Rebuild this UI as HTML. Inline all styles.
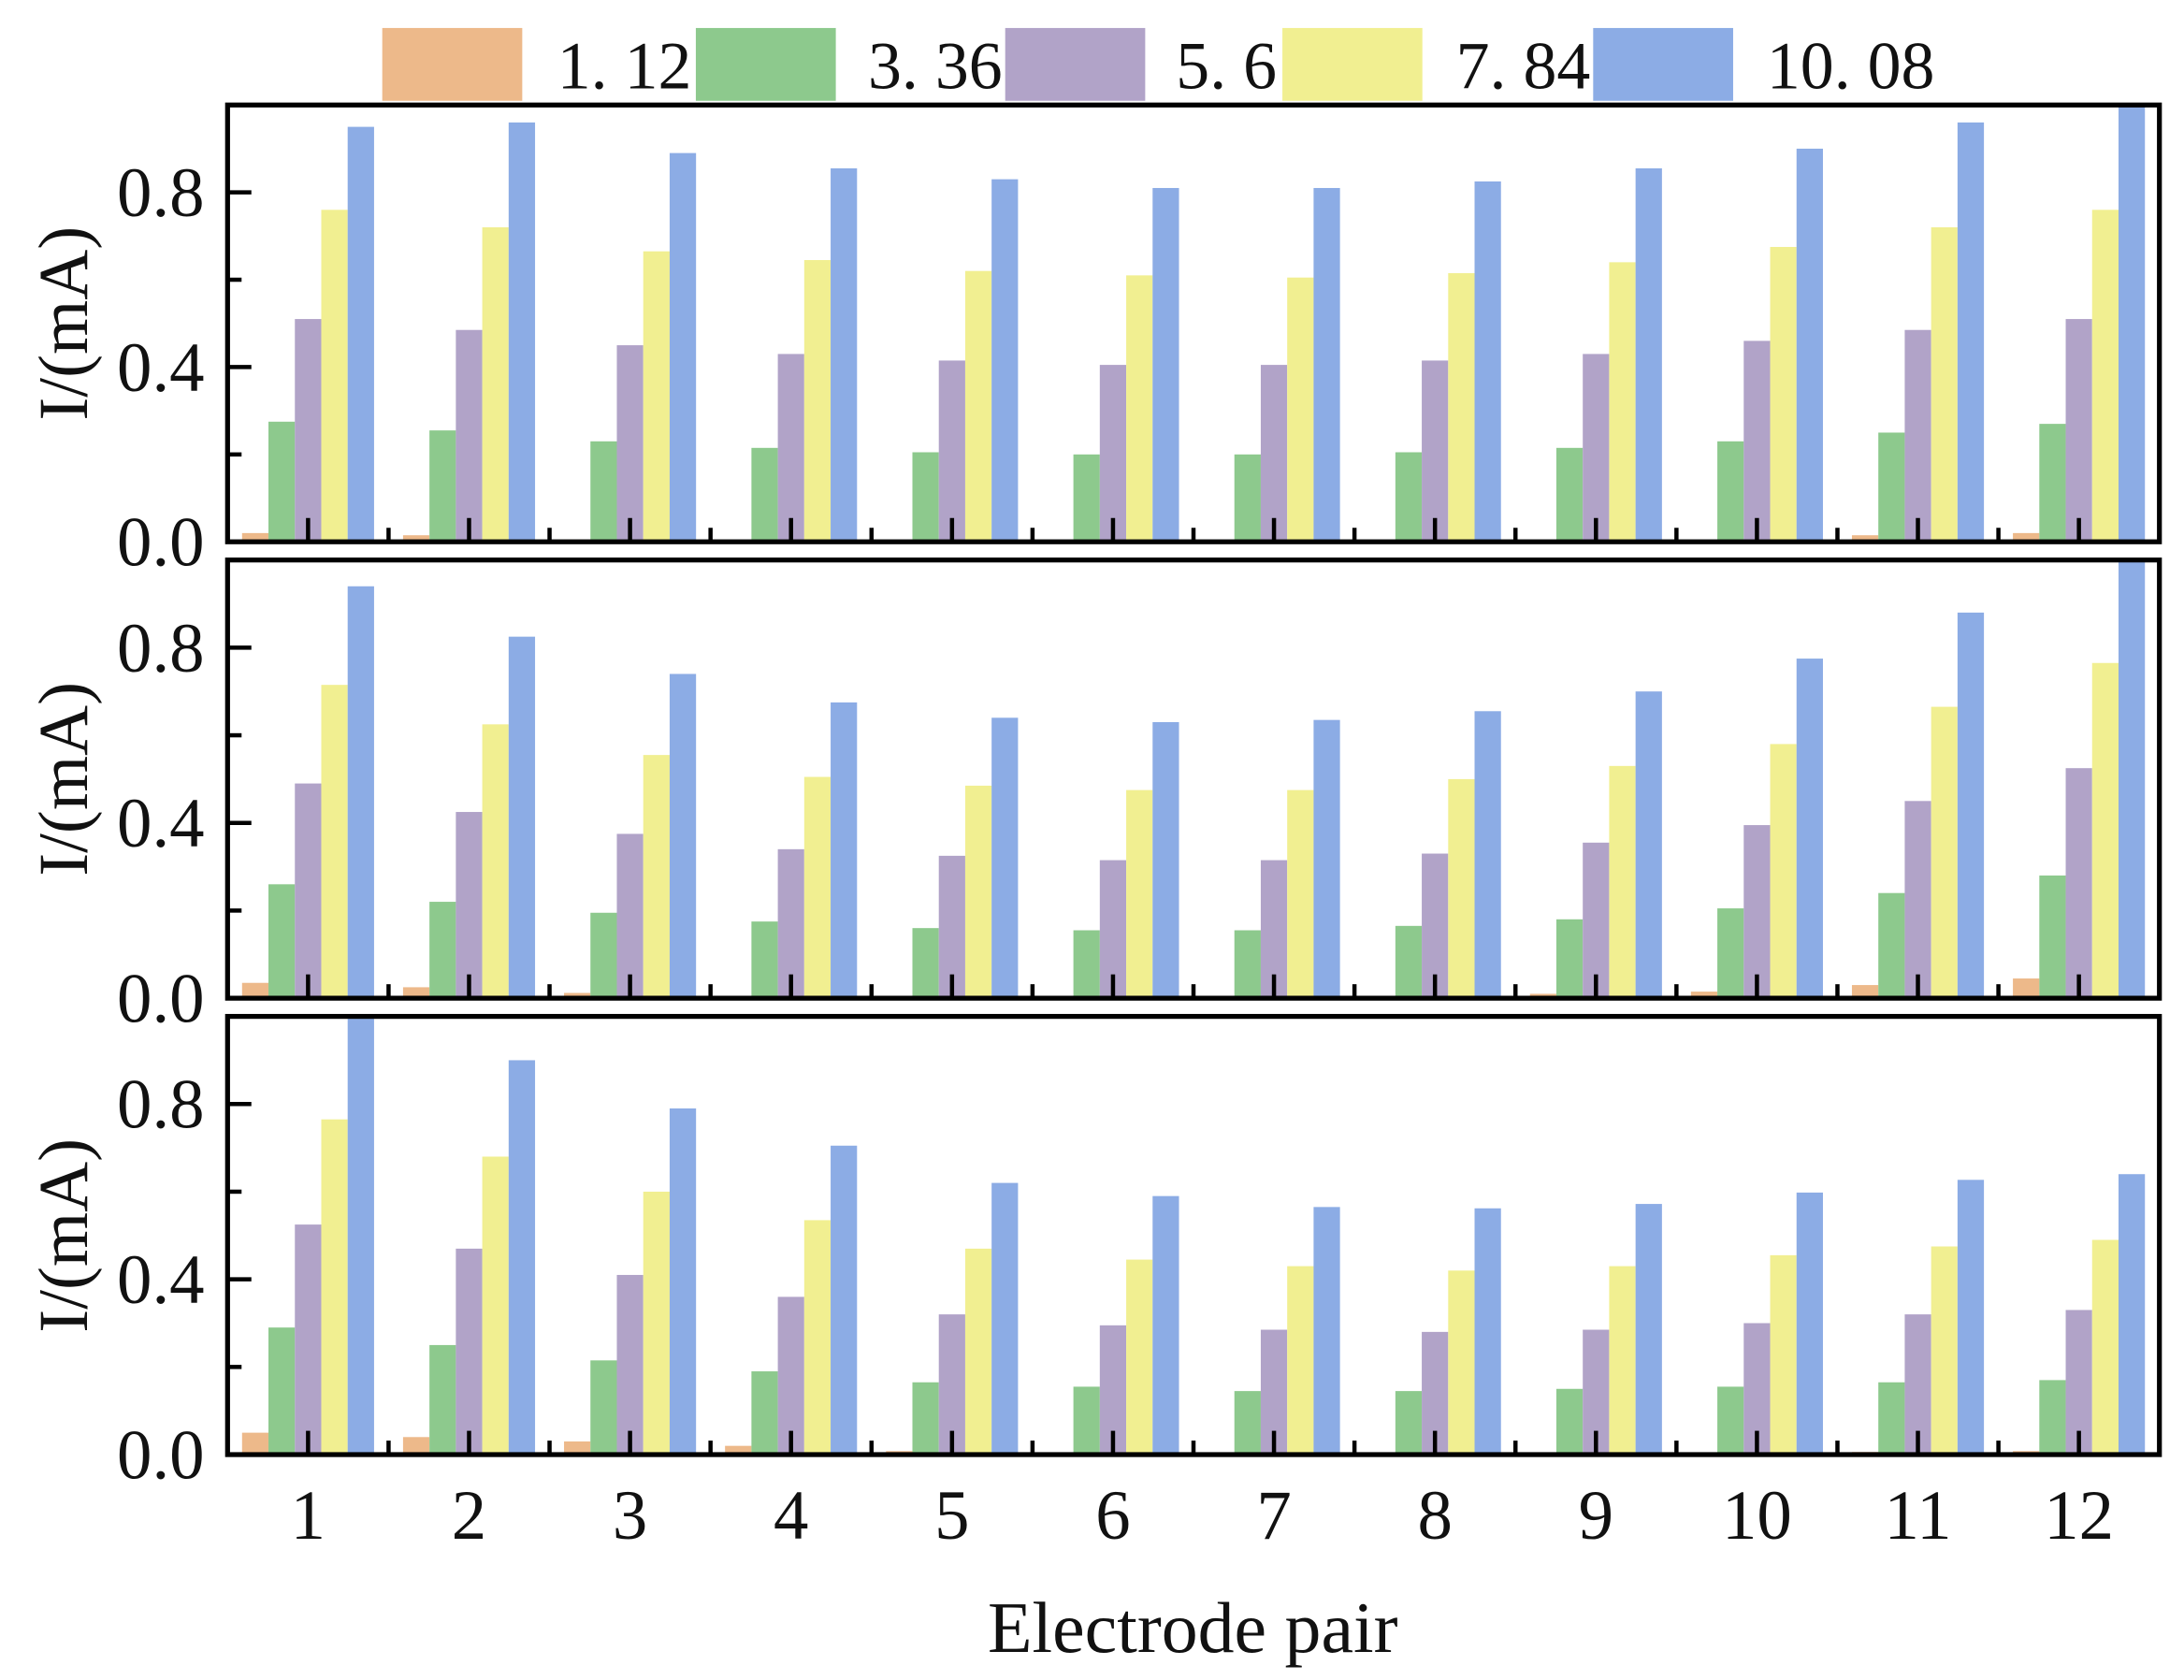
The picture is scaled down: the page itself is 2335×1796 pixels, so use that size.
<!DOCTYPE html>
<html><head><meta charset="utf-8">
<style>html,body{margin:0;padding:0;background:#fff}svg{display:block}text{font-family:"Liberation Serif",serif;fill:#111}</style>
</head><body>
<svg id="chart" width="2335" height="1796" viewBox="0 0 1560 1200" xmlns="http://www.w3.org/2000/svg"></svg>
<script>
const categories = ["1","2","3","4","5","6","7","8","9","10","11","12"];
const seriesNames = ["1. 12","3. 36","5. 6","7. 84","10. 08"];
const colors = ["#EDB98A","#8DC98D","#B1A3C8","#F1EF91","#8CACE5"];
const yTicks = [0, 0.4, 0.8];
const yTickLabels = ["0.0","0.4","0.8"];
const yMinorTicks = [0.2, 0.6];
const p1s1 = [0.02,0.015,0.005,0.003,0.002,0.001,0.001,0.001,0.002,0.003,0.015,0.02];
const p1s2 = [0.275,0.255,0.23,0.215,0.205,0.2,0.2,0.205,0.215,0.23,0.25,0.27];
const p1s3 = [0.51,0.485,0.45,0.43,0.415,0.405,0.405,0.415,0.43,0.46,0.485,0.51];
const p1s4 = [0.76,0.72,0.665,0.645,0.62,0.61,0.605,0.615,0.64,0.675,0.72,0.76];
const p1s5 = [0.95,0.96,0.89,0.855,0.83,0.81,0.81,0.825,0.855,0.9,0.96,1.0];
const p2s1 = [0.035,0.025,0.012,0.005,0.002,0.001,0.001,0.002,0.01,0.015,0.03,0.045];
const p2s2 = [0.26,0.22,0.195,0.175,0.16,0.155,0.155,0.165,0.18,0.205,0.24,0.28];
const p2s3 = [0.49,0.425,0.375,0.34,0.325,0.315,0.315,0.33,0.355,0.395,0.45,0.525];
const p2s4 = [0.715,0.625,0.555,0.505,0.485,0.475,0.475,0.5,0.53,0.58,0.665,0.765];
const p2s5 = [0.94,0.825,0.74,0.675,0.64,0.63,0.635,0.655,0.7,0.775,0.88,1.0];
const p3s1 = [0.05,0.04,0.03,0.02,0.008,0.003,0.002,0.002,0.003,0.004,0.006,0.008];
const p3s2 = [0.29,0.25,0.215,0.19,0.165,0.155,0.145,0.145,0.15,0.155,0.165,0.17];
const p3s3 = [0.525,0.47,0.41,0.36,0.32,0.295,0.285,0.28,0.285,0.3,0.32,0.33];
const p3s4 = [0.765,0.68,0.6,0.535,0.47,0.445,0.43,0.42,0.43,0.455,0.475,0.49];
const p3s5 = [1.0,0.9,0.79,0.705,0.62,0.59,0.565,0.562,0.572,0.598,0.627,0.64];
const panels = [[p1s1,p1s2,p1s3,p1s4,p1s5],[p2s1,p2s2,p2s3,p2s4,p2s5],[p3s1,p3s2,p3s3,p3s4,p3s5]];

const NS = "http://www.w3.org/2000/svg";
const svg = document.getElementById("chart");
function mk(tag, attrs, parent){const e=document.createElementNS(NS,tag);for(const k in attrs)e.setAttribute(k,attrs[k]);(parent||svg).appendChild(e);return e;}

const L = 162.5, R = 1542.5;
const panelTops = [75, 400, 726];
const panelBots = [387, 713, 1039];
const xScale = v => L + (v - 0.5) * (R - L) / 12;
const barW = 0.164;

const legend = mk("g", {});


const legX = [273, 497, 718, 916, 1138];
const legTX = [398, 620, 840, 1040, 1262];
seriesNames.forEach((n, i) => {
  const r = mk("rect", {x: legX[i], y: 20, width: 100, height: 52, fill: colors[i]}, legend);
  
  
  const t = mk("text", {x: legTX[i], y: 63, "font-size": 48}, legend);
  
  
  t.textContent = n;
});

panels.forEach((series, p) => {
  const top = panelTops[p], bot = panelBots[p];
  const yScale = v => bot - v * (bot - top);
  const g = mk("g", {});
  
  
  series.forEach((vals, s) => {
    vals.forEach((v, c) => {
      const xa = xScale(c + 1 + (s - 2.5) * barW);
      const xb = xScale(c + 1 + (s - 1.5) * barW);
      const y = yScale(Math.min(v, 1));
      const r = mk("rect", {x: xa, y: y, width: xb - xa, height: bot - y, fill: colors[s]}, g);
      
      
    });
  });
  const f = mk("rect", {x: L, y: top, width: R - L, height: bot - top, fill: "none", stroke: "#000", "stroke-width": 3.5}, g);
  
  
  categories.forEach((c, i) => {
    const x = xScale(i + 1);
    const t = mk("line", {x1: x, x2: x, y1: bot, y2: bot - 17, stroke: "#000", "stroke-width": 3}, g);
    
    
    if (i < categories.length - 1) {
      const xm = xScale(i + 1.5);
      const m = mk("line", {x1: xm, x2: xm, y1: bot, y2: bot - 10, stroke: "#000", "stroke-width": 3}, g);
      
      
    }
  });
  yTicks.forEach((v, i) => {
    const y = yScale(v);
    const t = mk("line", {x1: L, x2: L + 17, y1: y, y2: y, stroke: "#000", "stroke-width": 3}, g);
    
    
    const lb = mk("text", {x: 146, y: y + 17, "font-size": 50, "text-anchor": "end"}, g);
    
    
    lb.textContent = yTickLabels[i];
  });
  yMinorTicks.forEach(v => {
    const y = yScale(v);
    const m = mk("line", {x1: L, x2: L + 10, y1: y, y2: y, stroke: "#000", "stroke-width": 3}, g);
    
    
  });
  const cy = (top + bot) / 2;
  const yl = mk("text", {x: 62, y: cy, "font-size": 50, "text-anchor": "middle", transform: `rotate(-90 62 ${cy})`}, g);
  
  
  yl.textContent = "I/(mA)";
});

categories.forEach((c, i) => {
  const t = mk("text", {x: xScale(i + 1), y: 1099, "font-size": 50, "text-anchor": "middle"});
  
  
  t.textContent = c;
});
const xt = mk("text", {x: 852, y: 1180, "font-size": 52, "text-anchor": "middle"});


xt.textContent = "Electrode pair";
</script>
</body></html>
